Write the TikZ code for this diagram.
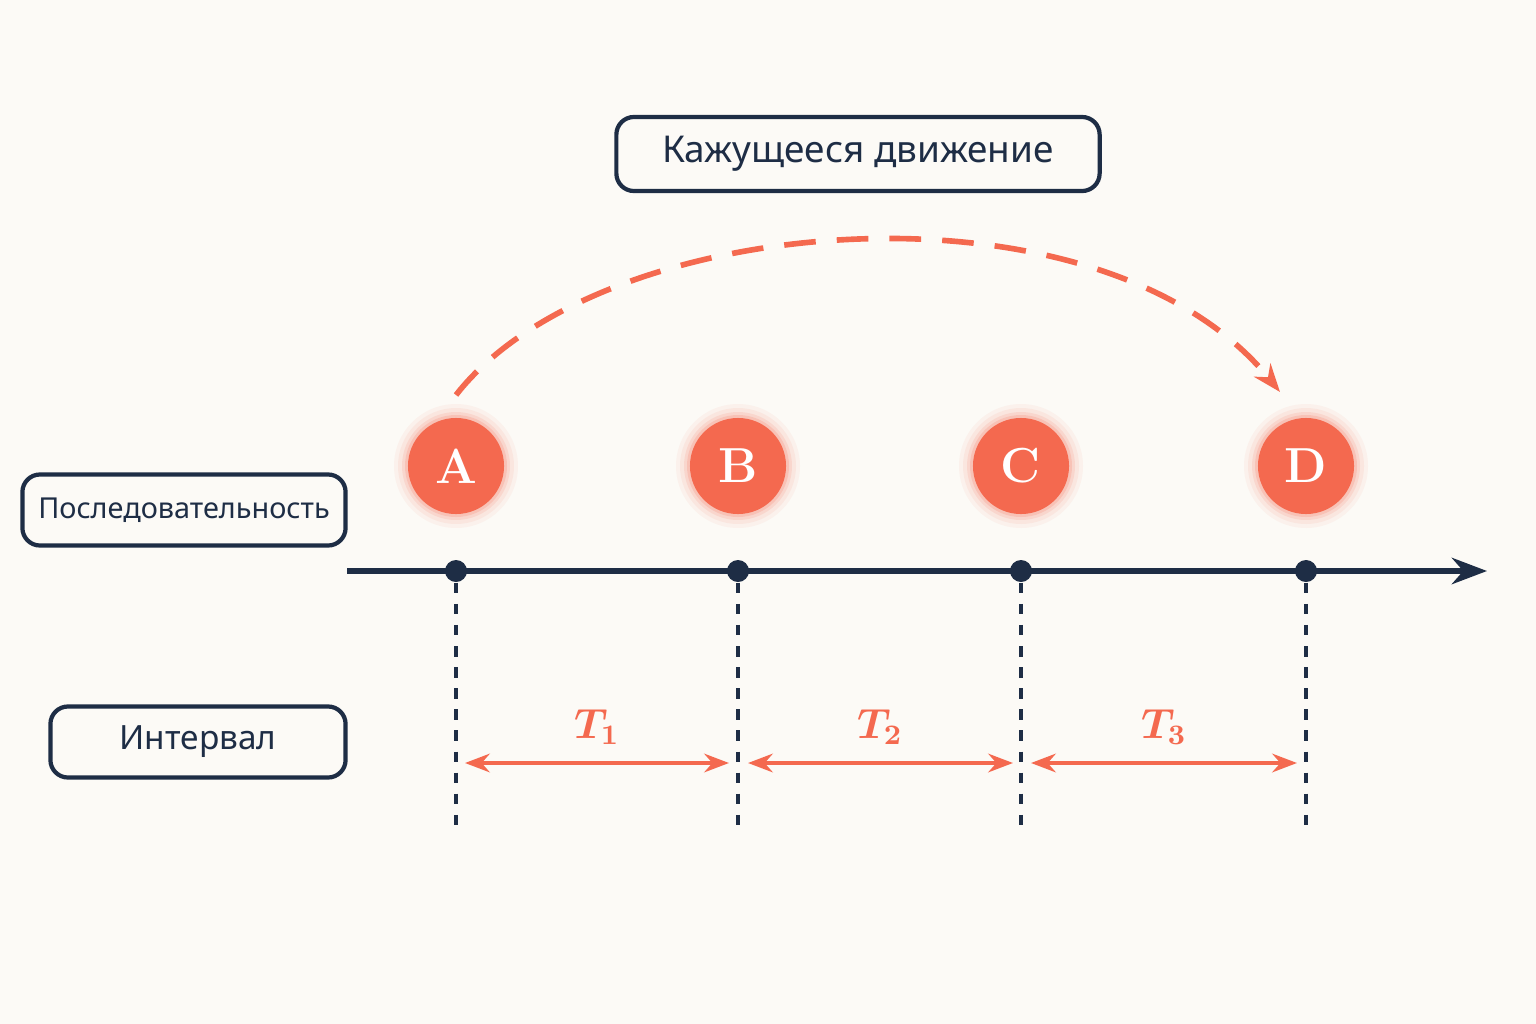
\documentclass[tikz,border=0pt]{standalone}
\usepackage{amsmath,amsbsy}
\usepackage{fontspec}
\setsansfont{Noto Sans}
\usetikzlibrary{arrows.meta}
\definecolor{navy}{HTML}{1E2D45}
\definecolor{coral}{HTML}{F4694F}
\definecolor{paper}{HTML}{FCFAF6}
\begin{document}
\begin{tikzpicture}[x=0.01cm,y=-0.01cm,
    lbox/.style={draw=navy,line width=1.2pt,rounded corners=5pt,text=navy},
    tick/.style={draw=navy,dashed,line width=1pt},
    span/.style={draw=coral,line width=1.2pt,{Stealth[length=7pt]}-{Stealth[length=7pt]}}]
    \fill[paper] (0,0) rectangle (1536,1024);
    \useasboundingbox (0,0) rectangle (1536,1024);

    \node(title)[lbox,minimum width=4.83cm,minimum height=0.74cm,font=\sffamily\bfseries\fontsize{10.5}{10.5}\selectfont] at (858,154) {Кажущееся движение};
    \node(seq)[lbox,minimum width=3.23cm,minimum height=0.71cm,font=\sffamily\bfseries\fontsize{8.2}{8.2}\selectfont] at (184,510) {Последовательность};
    \node(int)[lbox,minimum width=2.95cm,minimum height=0.71cm,font=\sffamily\bfseries\fontsize{9.5}{9.5}\selectfont] at (198,742) {Интервал};

    \coordinate(s) at (347,571);
    \coordinate(e) at (1487,571);
    \path[draw=navy,line width=1.5pt,-{Stealth[length=10pt]}](s) -- (e);

    \foreach \n/\x in {A/456,B/738,C/1021,D/1306}{
      \foreach \r/\o in {62/0.06,58/0.08,54/0.12,51/0.18}
        \fill[coral,opacity=\o] (\x,466) circle (\r*0.01cm);
      \node(\n)[circle,fill=coral,minimum size=0.96cm,inner sep=0pt,text=white,font=\bfseries\fontsize{14}{14}\selectfont] at (\x,466) {\n};
      \node(\n p)[circle,fill=navy,minimum size=0.22cm,inner sep=0pt] at (\x,571) {};
      \coordinate(\n b) at (\x,830);
      \path[tick](\n p) -- (\n b);
    }

    \coordinate(t1a) at (465,763); \coordinate(t1b) at (729,763);
    \coordinate(t2a) at (748,763); \coordinate(t2b) at (1013,763);
    \coordinate(t3a) at (1031,763); \coordinate(t3b) at (1297,763);
    \path[span](t1a) -- (t1b);
    \path[span](t2a) -- (t2b);
    \path[span](t3a) -- (t3b);
    \node(l1)[text=coral,font=\fontsize{12}{12}\selectfont] at (597,727) {$\boldsymbol{T_1}$};
    \node(l2)[text=coral,font=\fontsize{12}{12}\selectfont] at (880,727) {$\boldsymbol{T_2}$};
    \node(l3)[text=coral,font=\fontsize{12}{12}\selectfont] at (1164,727) {$\boldsymbol{T_3}$};

    \coordinate(arcs) at (456,395);
    \coordinate(arce) at (1280,392);
    \path[draw=coral,line width=1.6pt,dash pattern=on 9pt off 6pt,-{Stealth[length=8pt]}]
      (arcs) .. controls (600,210) and (1100,170) .. (arce);
\end{tikzpicture}
\end{document}
